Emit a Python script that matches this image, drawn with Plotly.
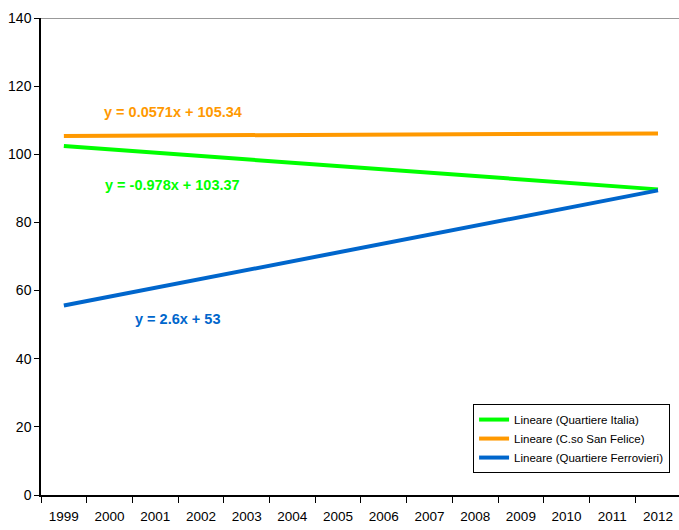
import plotly.graph_objects as go

years = [str(y) for y in range(1999, 2013)]
trend_x = ["1999", "2012"]
italia = [102.4, 89.7]
san_felice = [105.4, 106.1]
ferrovieri = [55.6, 89.4]
names = ["Lineare (Quartiere Italia)", "Lineare (C.so San Felice)", "Lineare (Quartiere Ferrovieri)"]
colors = ["#00FF00", "#FF9900", "#0066CC"]
equations = ["y = -0.978x + 103.37", "y = 0.0571x + 105.34", "y = 2.6x + 53"]
eq_pos = [(2.38, 90.9), (2.38, 112.4), (2.49, 51.8)]

FONT = "Liberation Sans, Arial, sans-serif"

fig = go.Figure()
for vals, name, col in zip([italia, san_felice, ferrovieri], names, colors):
    fig.add_trace(go.Scatter(x=trend_x, y=vals, mode="lines", name=name,
                             line=dict(color=col, width=4)))

for txt, (px, py), col in zip(equations, eq_pos, colors):
    fig.add_annotation(x=px, y=py, xref="x", yref="y", text="<b>" + txt + "</b>",
                       showarrow=False, font=dict(color=col, size=14.5, family=FONT))

fig.add_shape(type="line", xref="paper", yref="y", x0=0, x1=1, y0=140, y1=140,
              line=dict(color="#999999", width=2))

fig.update_layout(
    width=679, height=530,
    margin=dict(l=41, r=0, t=18, b=35),
    paper_bgcolor="white", plot_bgcolor="white",
    font=dict(family=FONT, color="black"),
    showlegend=True,
    legend=dict(x=0.986, y=0.046, xanchor="right", yanchor="bottom",
                bgcolor="white", bordercolor="black", borderwidth=1,
                font=dict(size=11.5, family=FONT), tracegroupgap=0,
                itemwidth=30),
    xaxis=dict(type="category", categoryorder="array", categoryarray=years,
               range=[-0.5, 13.46], showgrid=False, showline=True,
               linecolor="black", linewidth=1.5, ticks="outside", tickson="boundaries",
               ticklen=6, tickcolor="black", tickfont=dict(size=13.5, family=FONT),
               ticklabelstandoff=8, zeroline=False, fixedrange=True),
    yaxis=dict(range=[0, 140], dtick=20, showgrid=False, showline=True,
               linecolor="black", linewidth=1.5, ticks="outside", ticklen=5,
               tickcolor="black", tickfont=dict(size=14, family=FONT),
               zeroline=False),
)

fig.write_html("out.html", config={"displayModeBar": False},
               post_script="document.body.style.margin='0';document.body.style.overflow='hidden';")
